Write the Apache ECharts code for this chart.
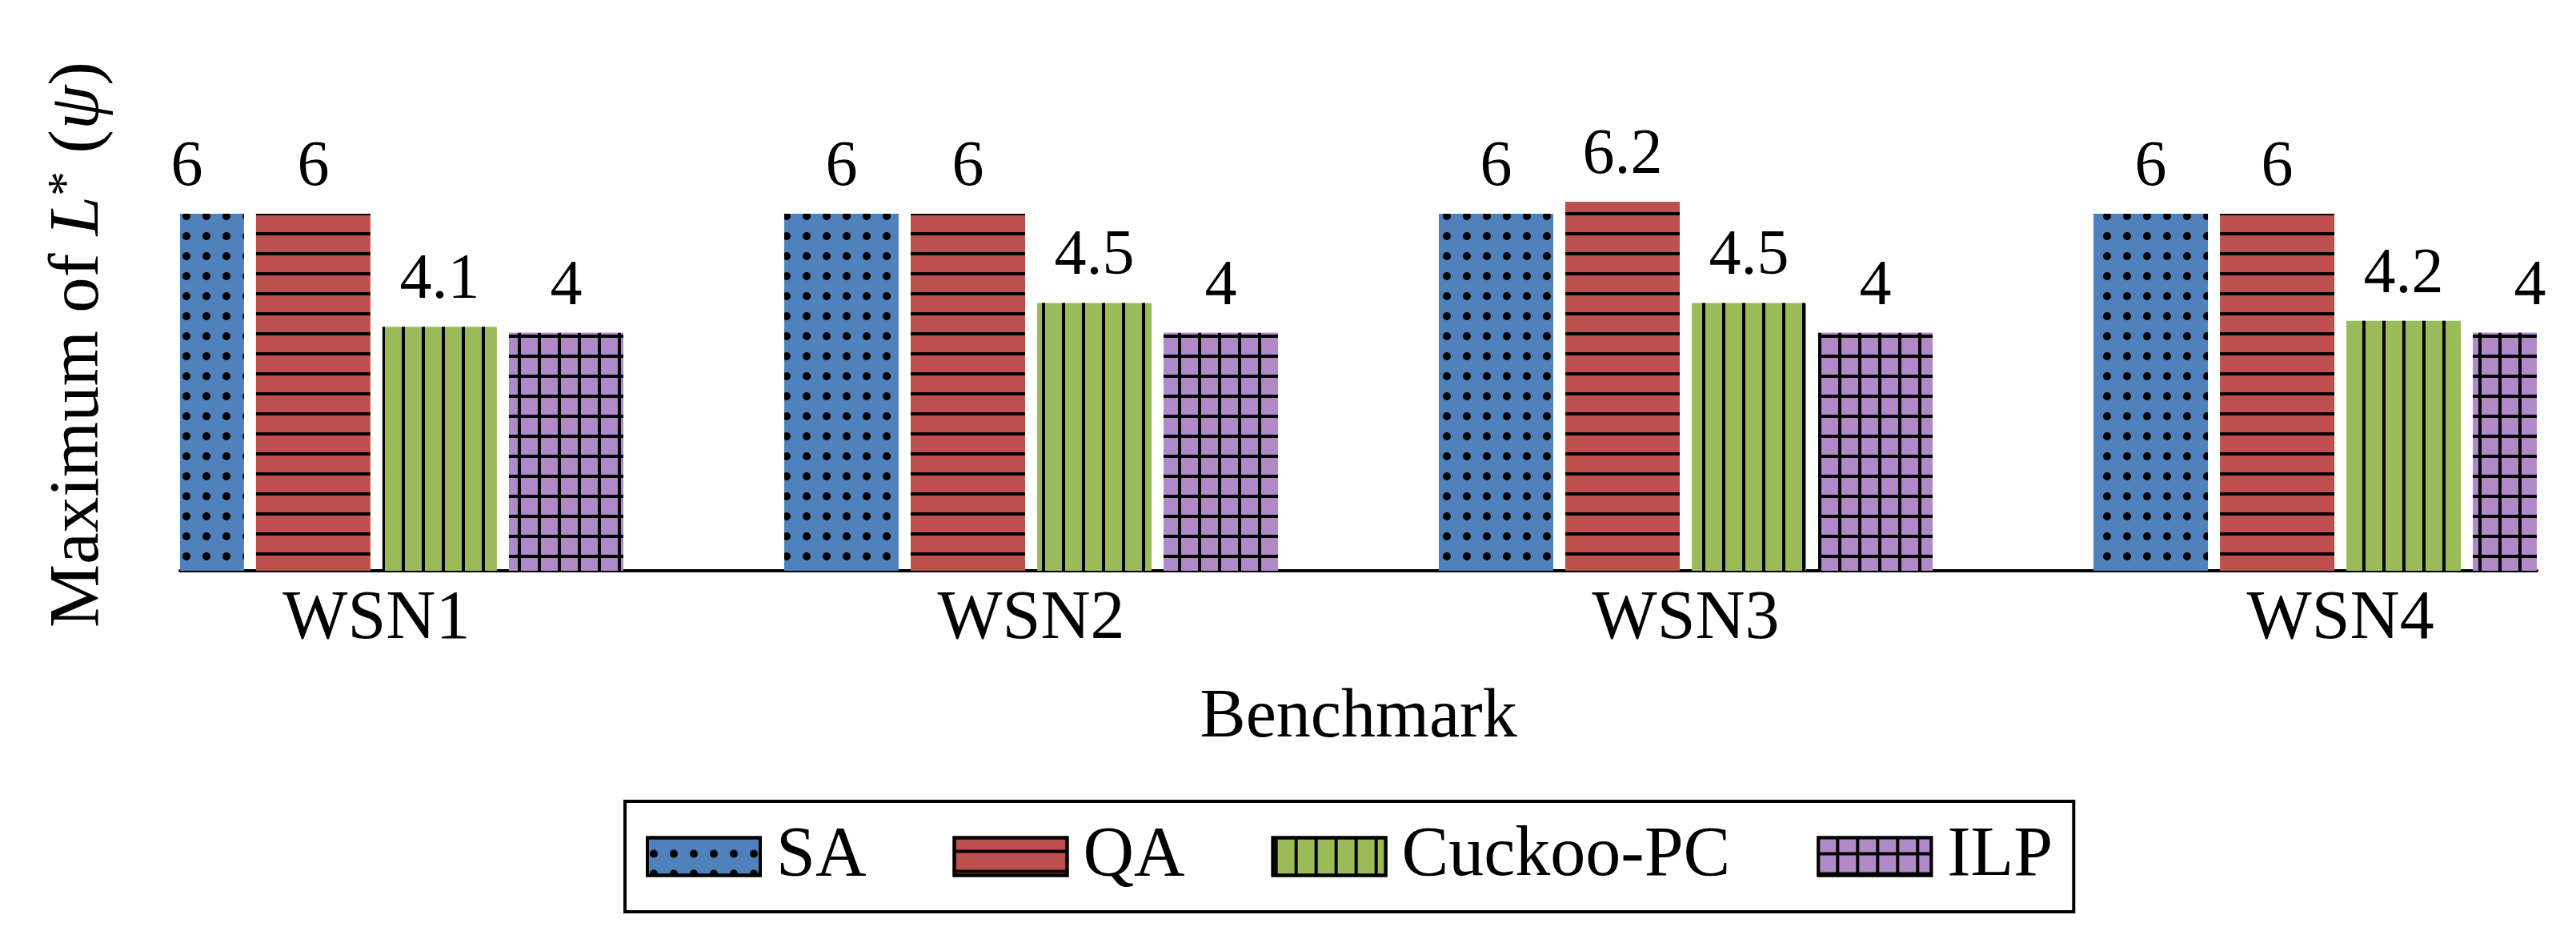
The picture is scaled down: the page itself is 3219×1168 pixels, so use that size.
<!DOCTYPE html>
<html>
<head>
<meta charset="utf-8">
<script src="https://cdn.jsdelivr.net/npm/echarts@6/dist/echarts.min.js"></script>
<style>html,body{margin:0;padding:0;background:#fff}#c{width:3219px;height:1168px}</style>
</head>
<body>
<div id="c"></div>
<script>
const categories = ['WSN1', 'WSN2', 'WSN3', 'WSN4'];
const seriesNames = ['SA', 'QA', 'Cuckoo-PC', 'ILP'];
const saValues = [6, 6, 6, 6];
const qaValues = [6, 6, 6.2, 6];
const cuckooValues = [4.1, 4.5, 4.5, 4.2];
const ilpValues = [4, 4, 4, 4];

// x range is enlarged by 0.3 category on each side (like pgfplots "enlarge x limits"),
// realised as a category axis of 0.2-wide slots so bars are clipped at the plot edge.
const X_MIN = -0.3, X_MAX = 3.3, SLOT = 0.2;
const nSlots = Math.round((X_MAX - X_MIN) / SLOT);
const slotOf = i => Math.round((i - X_MIN) / SLOT - 0.5);
const slotNames = [];
for (let j = 0; j < nSlots; j++) slotNames.push('_' + j);
categories.forEach((c, i) => { slotNames[slotOf(i)] = c; });
const catSet = new Set(categories);
const toData = vals => {
  const d = slotNames.map(() => '-');
  vals.forEach((v, i) => { d[slotOf(i)] = v; });
  return d;
};

const FONT = 'Liberation Serif';
const colors = ['#4F81BD', '#C0504D', '#9BBB59', '#B08AC8'];
const decals = [
  {symbol: 'circle', symbolSize: 1, symbolKeepAspect: false, dashArrayX: [[0, 3, 10, 12]], dashArrayY: [0, 15, 10, 0], color: '#000'},
  {symbol: 'rect', symbolSize: 1, symbolKeepAspect: false, dashArrayX: [[25, 0]], dashArrayY: [0, 15, 4, 6], color: '#000'},
  {symbol: 'rect', symbolSize: 1, symbolKeepAspect: false, dashArrayX: [[0, 2, 4, 19]], dashArrayY: [25, 0], color: '#000'},
  {symbol: 'rect', symbolSize: 1, symbolKeepAspect: false, dashArrayX: [[0, 1, 21, 3]], dashArrayY: [18, 4, 3, 0], color: '#B08AC8', backgroundColor: '#000'}
];
const allValues = [saValues, qaValues, cuckooValues, ilpValues];

const BAR_W = 143;
const BAR_GAP = '10.5%';

const series = [];
allValues.forEach((vals, k) => {
  series.push({
    name: seriesNames[k], type: 'bar', xAxisIndex: 0, yAxisIndex: 0,
    data: toData(vals), barWidth: BAR_W, barGap: BAR_GAP, clip: true,
    itemStyle: {color: colors[k], decal: decals[k]},
    label: {show: false}, emphasis: {disabled: true}, silent: true
  });
});
allValues.forEach((vals, k) => {
  series.push({
    name: seriesNames[k] + ' value', type: 'bar', xAxisIndex: 1, yAxisIndex: 0,
    data: toData(vals), barWidth: BAR_W, barGap: BAR_GAP, clip: false,
    itemStyle: {color: 'rgba(0,0,0,0)'},
    label: {show: true, position: 'top', distance: 17, fontFamily: FONT, fontSize: 80, color: '#000',
      formatter: p => String(p.value)},
    emphasis: {disabled: true}, silent: true
  });
});

const chart = echarts.init(document.getElementById('c'), null, {renderer: 'canvas'});
chart.setOption({
  animation: false,
  backgroundColor: '#fff',
  grid: {left: 225, right: 49, top: 148, bottom: 455, outerBoundsMode: 'none'},
  xAxis: [
    {type: 'category', data: slotNames, boundaryGap: true,
     axisLine: {show: true, onZero: false, lineStyle: {color: '#000', width: 4}},
     axisTick: {show: false}, splitLine: {show: false},
     axisLabel: {interval: 0, formatter: v => (catSet.has(v) ? v : ''), fontFamily: FONT, fontSize: 86, color: '#000', margin: 18},
     name: 'Benchmark', nameLocation: 'middle', nameGap: 141,
     nameTextStyle: {fontFamily: FONT, fontSize: 86, color: '#000'}},
    {type: 'category', data: slotNames, boundaryGap: true, show: false}
  ],
  yAxis: {
    type: 'value', min: 0, max: 7.6,
    axisLine: {show: false}, axisTick: {show: false}, axisLabel: {show: false}, splitLine: {show: false},
    name: '{a|Maximum of }{i|L}{s|*}{a| (}{i|ψ}{a|)}', nameLocation: 'middle', nameGap: 82,
    nameTextStyle: {
      fontFamily: FONT, fontSize: 89, color: '#000',
      rich: {
        a: {fontFamily: FONT, fontSize: 89, color: '#000'},
        i: {fontFamily: FONT, fontSize: 89, fontStyle: 'italic', color: '#000'},
        s: {fontFamily: FONT, fontSize: 62, color: '#000', verticalAlign: 'top'}
      }
    }
  },
  legend: {
    data: seriesNames, left: 781, top: 1001, orient: 'horizontal',
    padding: [25, 26], itemGap: 108, itemWidth: 141, itemHeight: 47, icon: 'rect',
    borderColor: '#000', borderWidth: 4, backgroundColor: '#fff',
    itemStyle: {borderColor: '#000', borderWidth: 4},
    textStyle: {fontFamily: FONT, fontSize: 88, color: '#000', padding: [0, 0, 0, 15]},
    selectedMode: false
  },
  series: series
});
</script>
</body>
</html>
